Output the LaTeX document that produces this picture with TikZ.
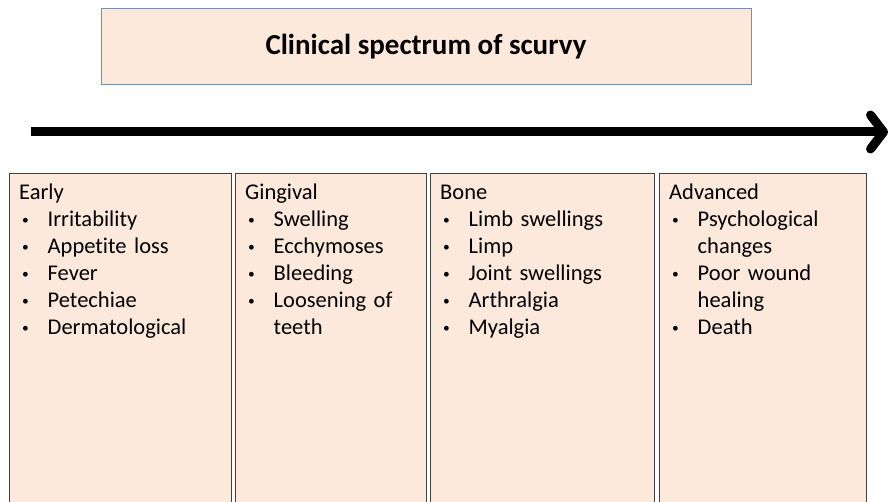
\documentclass[tikz,border=0pt]{standalone}
\usepackage{fontspec}
\setmainfont[Ligatures=NoCommon]{Carlito}
\newfontfamily\listfamily[Ligatures=NoCommon,WordSpace=0.7]{Carlito}
\usepackage{graphicx}
\usepackage{tikz}
\usetikzlibrary{arrows.meta,positioning}
\definecolor{ScurvyPeach}{RGB}{252,233,219}
\definecolor{TitleBlue}{RGB}{100,145,210}
\definecolor{BoxGray}{RGB}{64,64,64}
\newcommand{\itm}[1]{\makebox[28.5pt][l]{\hspace{3pt}\raisebox{2.8pt}{\scalebox{0.6}{\textbullet}}}#1}
\newcommand{\cont}[1]{\hspace*{28.5pt}#1}

\begin{document}
\begin{tikzpicture}[
  x=1pt, y=-1pt,
  titlebox/.style={
    draw=TitleBlue,
    fill=ScurvyPeach,
    line width=1pt,
    minimum width=650pt,
    minimum height=76pt,
    font=\fontsize{29}{33}\selectfont\bfseries
  },
  stage/.style={
    draw=BoxGray,
    fill=ScurvyPeach,
    line width=1.3pt,
    anchor=north west,
    minimum height=345pt
  },
  stagelist/.style={
    anchor=base west,
    inner sep=0pt,
    text width=200pt,
    font=\listfamily\fontsize{22.5}{27}\selectfont
  },
  timeline/.style={-{Straight Barb[length=13pt,width=34pt,round]}, line width=9pt},
]
\clip (0,0) rectangle (893,502);
\useasboundingbox (0,0) rectangle (893,502);

\node[titlebox] (title) at (426,47) {Clinical spectrum of scurvy};

\coordinate (tstart) at (31,132);
\coordinate (tend) at (888,132);
\draw[timeline] (tstart) -- (tend);

\node[stage, minimum width=222pt] (early) at (9,173) {};
\node[stage, minimum width=191pt] (gingival) at (235,173) {};
\node[stage, minimum width=224pt] (bone) at (430,173) {};
\node[stage, minimum width=207pt] (advanced) at (659,173) {};

\node[stagelist] (earlylist) at ([xshift=10pt,yshift=-27pt]early.north west)
{Early\\
\itm{Irritability}\\
\itm{Appetite loss}\\
\itm{Fever}\\
\itm{Petechiae}\\
\itm{Dermatological}};
\node[stagelist] (gingivallist) at ([xshift=10pt,yshift=-27pt]gingival.north west)
{Gingival\\
\itm{Swelling}\\
\itm{Ecchymoses}\\
\itm{Bleeding}\\
\itm{Loosening of}\\
\cont{teeth}};
\node[stagelist] (bonelist) at ([xshift=10pt,yshift=-27pt]bone.north west)
{Bone\\
\itm{Limb swellings}\\
\itm{Limp}\\
\itm{Joint swellings}\\
\itm{Arthralgia}\\
\itm{Myalgia}};
\node[stagelist] (advancedlist) at ([xshift=10pt,yshift=-27pt]advanced.north west)
{Advanced\\
\itm{Psychological}\\
\cont{changes}\\
\itm{Poor wound}\\
\cont{healing}\\
\itm{Death}};
\end{tikzpicture}
\end{document}
